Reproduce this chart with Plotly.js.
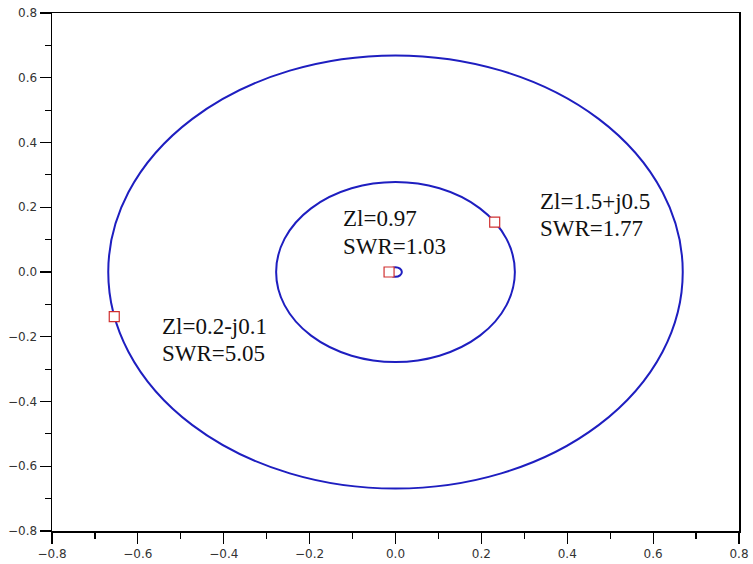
<!DOCTYPE html>
<html>
<head>
<meta charset="utf-8">
<script src="https://cdn.plot.ly/plotly-3.0.1.min.js"></script>
<style>html,body{margin:0;padding:0;background:#fff;}#chart{width:753px;height:564px;}</style>
</head>
<body>
<div id="chart"></div>
<script>
// |Gamma| circles (constant SWR)
const circleRadii = [0.669, 0.278, 0.0148];
// Load reflection coefficients (markers)
const pointRe = [-0.655, 0.231, -0.015];
const pointIm = [-0.138, 0.154, 0.0];
// Label lines and their anchor points (data coordinates)
const labelLines = ["Zl=0.97", "SWR=1.03", "Zl=1.5+j0.5", "SWR=1.77", "Zl=0.2-j0.1", "SWR=5.05"];
const labelX = [-0.127, -0.127, 0.331, 0.331, -0.548, -0.548];
const labelY = [0.165, 0.079, 0.219, 0.133, -0.168, -0.253];
const tickVals = [-0.8, -0.6, -0.4, -0.2, 0.0, 0.2, 0.4, 0.6, 0.8];

const blue = '#1e1ec0';
const red = '#d03030';

const shapes = circleRadii.map(r => ({
  type: 'circle', xref: 'x', yref: 'y', layer: 'below',
  x0: -r, x1: r, y0: -r, y1: r,
  line: {color: blue, width: 2}
}));

const annotations = labelLines.map((t, i) => ({
  x: labelX[i], y: labelY[i], xref: 'x', yref: 'y',
  text: t, showarrow: false, xanchor: 'left', yanchor: 'middle',
  font: {family: 'Liberation Serif', size: 23, color: '#111'}
}));

const traces = [{
  x: pointRe, y: pointIm, type: 'scatter', mode: 'markers',
  marker: {symbol: 'square', size: 10, color: '#ffffff', line: {color: red, width: 1.2}},
  hoverinfo: 'skip', cliponaxis: false
}];

const axisCommon = {
  range: [-0.8, 0.8], autorange: false,
  showgrid: false, zeroline: false,
  showline: true, linecolor: '#000', linewidth: 1.5, mirror: true,
  ticks: 'outside', ticklen: 11, tickwidth: 1.2, tickcolor: '#000',
  tickvals: tickVals, tickformat: '.1f',
  minor: {dtick: 0.1, ticks: 'outside', ticklen: 6, tickwidth: 1.2, tickcolor: '#000'},
  tickfont: {family: 'DejaVu Sans', size: 12, color: '#333'}
};

const layout = {
  width: 753, height: 564,
  margin: {l: 52, r: 14, t: 13, b: 33},
  paper_bgcolor: '#fff', plot_bgcolor: '#fff',
  showlegend: false,
  xaxis: Object.assign({}, axisCommon),
  yaxis: Object.assign({}, axisCommon),
  shapes: shapes,
  annotations: annotations
};

Plotly.newPlot('chart', traces, layout, {displayModeBar: false, staticPlot: true});
</script>
</body>
</html>
